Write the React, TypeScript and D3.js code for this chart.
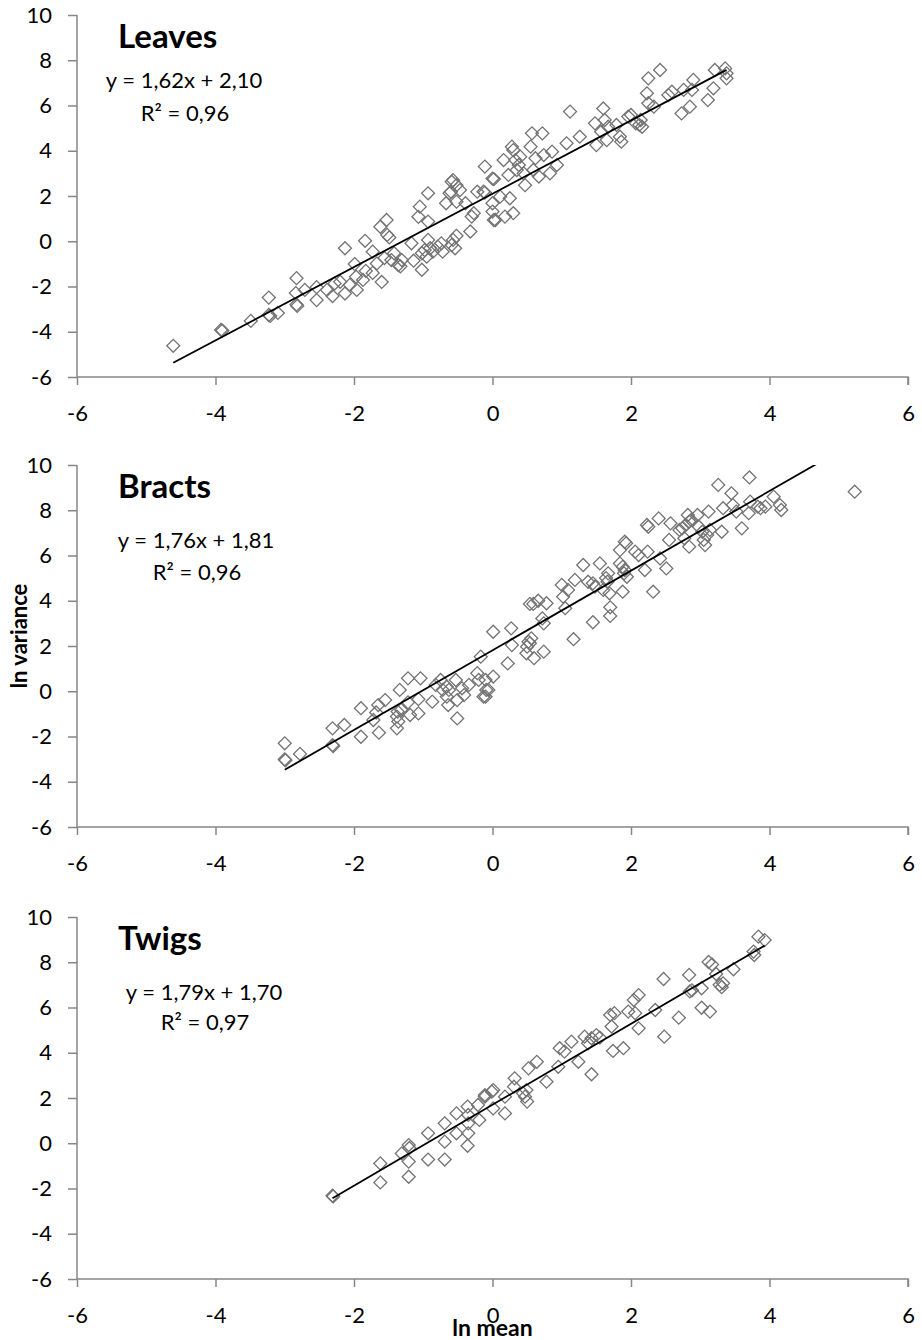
import { useEffect, useRef } from "react";
import * as d3 from "d3";

// ln mean / ln variance pairs
const leavesPoints: [number, number][] = [
  [-4.61, -4.62], [-3.92, -3.92], [-3.9, -3.95], [-3.49, -3.52], [-3.23, -2.49], [-3.23, -3.26], [-3.21, -3.3],
  [-3.1, -3.17], [-2.83, -1.63], [-2.84, -2.29], [-2.82, -2.86], [-2.83, -2.8], [-2.71, -2.15], [-2.54, -2.6],
  [-2.54, -2.03], [-2.39, -2.15], [-2.31, -2.42], [-2.28, -1.87], [-2.2, -1.79], [-2.13, -0.31], [-2.13, -2.31],
  [-2.06, -1.93], [-1.99, -1.01], [-1.97, -1.57], [-1.96, -2.15], [-1.87, -1.71], [-1.84, 0.02], [-1.83, -1.31],
  [-1.73, -0.46], [-1.73, -1.4], [-1.67, -0.98], [-1.62, 0.64], [-1.6, -1.8], [-1.53, 0.94], [-1.52, 0.28],
  [-1.49, 0.17], [-1.56, -0.74], [-1.46, -0.83], [-1.42, -0.53], [-1.36, -1.05], [-1.31, -0.83], [-1.33, -1.11],
  [-1.17, -0.09], [-1.14, -0.86], [-1.07, 1.08], [-1.05, 1.53], [-1.02, -1.26], [-1.02, -0.53], [-0.98, -0.39],
  [-0.95, -0.68], [-0.93, 2.12], [-0.93, 0.87], [-0.93, 0.06], [-0.9, -0.31], [-0.86, -0.46], [-0.79, -0.24],
  [-0.74, -0.09], [-0.72, -0.46], [-0.67, 1.68], [-0.62, 2.12], [-0.6, 2.19], [-0.59, 2.63], [-0.57, 2.7],
  [-0.52, 2.48], [-0.47, 2.26], [-0.52, 1.75], [-0.59, -0.17], [-0.54, -0.31], [-0.57, 0.06], [-0.52, 0.24],
  [-0.39, 1.68], [-0.32, 0.43], [-0.27, 1.24], [-0.3, 1.09], [-0.22, 2.19], [-0.11, 3.3], [-0.11, 2.15],
  [0.0, 2.77], [0.0, 1.68], [0.0, 1.31], [0.02, 0.94], [-0.13, 2.19], [0.02, 2.75], [0.04, 0.94], [0.18, 1.09],
  [0.11, 1.97], [0.25, 1.9], [0.3, 1.24], [0.16, 3.59], [0.28, 4.18], [0.3, 4.03], [0.23, 2.93], [0.33, 3.59],
  [0.38, 3.37], [0.4, 3.74], [0.35, 3.15], [0.45, 3.0], [0.47, 2.48], [0.57, 4.77], [0.55, 4.18], [0.62, 3.67],
  [0.59, 3.15], [0.72, 4.77], [0.67, 2.86], [0.74, 3.81], [0.83, 3.0], [0.86, 3.96], [0.93, 3.37], [1.07, 4.33],
  [1.12, 5.73], [1.26, 4.62], [1.5, 4.25], [1.48, 5.21], [1.6, 5.87], [1.62, 5.36], [1.57, 4.84], [1.65, 4.47],
  [1.67, 5.06], [1.79, 5.14], [1.84, 4.62], [1.86, 4.4], [1.96, 5.51], [2.0, 5.58], [2.07, 5.21], [2.12, 5.14],
  [2.14, 5.36], [2.16, 5.06], [2.23, 6.54], [2.25, 7.2], [2.25, 6.1], [2.33, 5.95], [2.42, 7.57], [2.54, 6.46],
  [2.59, 6.61], [2.73, 5.65], [2.76, 6.69], [2.85, 5.95], [2.9, 7.13], [2.88, 6.69], [3.11, 6.24], [3.19, 6.76],
  [3.21, 7.57], [3.36, 7.64], [3.38, 7.42], [3.38, 7.2],
];

const bractsPoints: [number, number][] = [
  [-3.0, -2.3], [-3.0, -3.01], [-2.99, -3.05], [-2.78, -2.77], [-2.31, -1.64], [-2.31, -2.38], [-2.3, -2.42],
  [-2.14, -1.49], [-1.9, -0.75], [-1.9, -2.01], [-1.72, -1.27], [-1.68, -0.94], [-1.65, -0.61], [-1.64, -1.83],
  [-1.55, -0.39], [-1.38, -1.12], [-1.37, -0.9], [-1.38, -1.64], [-1.36, -1.34], [-1.34, 0.06], [-1.32, -0.82],
  [-1.22, 0.57], [-1.22, -0.49], [-1.19, -1.05], [-1.07, -0.98], [-1.04, 0.57], [-1.07, -0.35], [-0.87, -0.46],
  [-0.82, 0.28], [-0.75, 0.5], [-0.72, 0.06], [-0.66, -0.24], [-0.64, -0.61], [-0.63, 0.06], [-0.66, 0.2],
  [-0.53, 0.5], [-0.51, -0.39], [-0.51, -1.2], [-0.44, 0.13], [-0.41, -0.17], [-0.34, 0.28], [-0.22, 0.8],
  [-0.2, 0.5], [-0.13, -0.24], [-0.06, 0.06], [-0.17, 1.53], [0.01, 2.63], [0.01, 0.65], [-0.1, 0.5],
  [-0.09, 0.06], [-0.1, -0.24], [0.22, 1.23], [0.27, 2.78], [0.28, 2.04], [0.5, 1.97], [0.52, 2.19],
  [0.54, 2.12], [0.49, 1.68], [0.56, 2.34], [0.6, 1.46], [0.74, 1.75], [0.54, 3.86], [0.59, 3.86], [0.66, 4.0],
  [0.72, 3.22], [0.74, 3.0], [0.78, 3.89], [1.0, 4.7], [1.02, 4.18], [1.05, 3.67], [1.09, 4.48], [1.19, 4.92],
  [1.17, 2.3], [1.31, 5.58], [1.38, 4.84], [1.45, 4.77], [1.48, 4.62], [1.45, 3.05], [1.55, 5.65], [1.6, 4.48],
  [1.64, 5.0], [1.66, 4.84], [1.67, 5.21], [1.69, 4.33], [1.7, 3.71], [1.7, 3.33], [1.84, 6.24], [1.91, 6.61],
  [1.93, 6.54], [1.84, 5.65], [1.88, 5.5], [1.91, 5.36], [1.9, 5.21], [1.94, 5.06], [1.88, 4.4], [2.06, 6.17],
  [2.11, 6.02], [2.2, 5.36], [2.24, 6.17], [2.32, 4.4], [2.42, 5.87], [2.51, 5.43], [2.25, 7.27], [2.23, 7.35],
  [2.4, 7.64], [2.57, 7.42], [2.55, 6.69], [2.7, 7.13], [2.74, 7.2], [2.79, 7.35], [2.84, 7.5], [2.82, 7.79],
  [2.87, 7.57], [2.77, 6.76], [2.84, 6.39], [2.96, 7.79], [2.98, 7.27], [3.03, 7.05], [3.1, 6.91], [3.05, 6.69],
  [3.07, 6.46], [3.12, 7.94], [3.14, 7.13], [3.31, 7.05], [3.26, 9.12], [3.33, 8.09], [3.45, 8.75], [3.47, 8.23],
  [3.52, 7.94], [3.6, 7.2], [3.71, 9.45], [3.72, 8.38], [3.7, 7.87], [3.83, 8.16], [3.87, 8.09], [3.94, 8.16],
  [4.06, 8.6], [4.15, 8.23], [4.17, 8.01], [5.23, 8.82],
];

const twigsPoints: [number, number][] = [
  [-2.31, -2.32], [-2.3, -2.35], [-1.62, -0.89], [-1.62, -1.73], [-1.31, -0.45], [-1.21, -0.08], [-1.2, -0.21],
  [-1.21, -0.81], [-1.21, -1.48], [-0.93, 0.44], [-0.93, -0.72], [-0.69, 0.88], [-0.69, 0.07], [-0.69, -0.72],
  [-0.52, 1.32], [-0.52, 0.44], [-0.36, 1.62], [-0.35, 1.25], [-0.35, 0.88], [-0.35, 0.44], [-0.36, -0.11],
  [-0.21, 1.69], [-0.19, 1.03], [-0.11, 2.06], [0.01, 2.35], [0.01, 1.54], [-0.11, 2.13], [-0.01, 2.28],
  [0.18, 2.06], [0.18, 1.32], [0.32, 2.87], [0.31, 2.5], [0.44, 2.21], [0.47, 2.06], [0.5, 1.84], [0.49, 2.35],
  [0.52, 3.31], [0.64, 3.6], [0.78, 2.72], [0.95, 3.38], [0.97, 4.2], [1.04, 4.05], [1.14, 4.49], [1.24, 3.6],
  [1.33, 4.71], [1.38, 4.42], [1.43, 4.64], [1.5, 4.78], [1.55, 4.67], [1.43, 3.05], [1.7, 5.67], [1.72, 5.16],
  [1.74, 4.08], [1.76, 5.75], [1.89, 4.2], [1.96, 5.82], [2.04, 6.33], [2.11, 6.55], [2.06, 5.75], [2.11, 5.08],
  [2.35, 5.89], [2.47, 7.26], [2.48, 4.71], [2.69, 5.55], [2.84, 7.44], [2.85, 6.71], [2.88, 6.76], [3.02, 6.85],
  [3.02, 5.99], [3.14, 5.82], [3.12, 8.01], [3.17, 7.9], [3.23, 7.48], [3.28, 7.0], [3.33, 7.07], [3.31, 6.9],
  [3.48, 7.69], [3.77, 8.47], [3.78, 8.32], [3.84, 9.13], [3.93, 8.98],
];

const panelNames = ["Leaves", "Bracts", "Twigs"];
const fitSlopes = [1.62, 1.76, 1.79];
const fitIntercepts = [2.10, 1.81, 1.70];
const fitLabels = ["y = 1,62x + 2,10", "y = 1,76x + 1,81", "y = 1,79x + 1,70"];
const r2Labels = ["R² = 0,96", "R² = 0,96", "R² = 0,97"];
const xTicks = [-6, -4, -2, 0, 2, 4, 6];
const yTicks = [-6, -4, -2, 0, 2, 4, 6, 8, 10];

const W = 922;
const H = 1340;

export default function App() {
  const svgRef = useRef<SVGSVGElement | null>(null);

  useEffect(() => {
    const svg = d3.select(svgRef.current);
    svg.selectAll("*").remove();

    const left = 77;
    const right = 908;
    const panelTops = [15, 465, 917];
    const panelH = 362;
    const font = "Lato, 'Open Sans', sans-serif";
    const axisColor = "#878787";
    const plain = (d: d3.NumberValue) => String(d); // hyphen minus, like the original

    const x = d3.scaleLinear().domain([-6, 6]).range([left, right]);
    const datasets = [leavesPoints, bractsPoints, twigsPoints];
    const diamond = d3.symbol().type(d3.symbolSquare).size(84);

    datasets.forEach((pts, i) => {
      const top = panelTops[i];
      const y = d3.scaleLinear().domain([-6, 10]).range([top + panelH, top]);
      const g = svg.append("g");

      const clipId = `clip-${i}`;
      svg.append("defs").append("clipPath").attr("id", clipId)
        .append("rect").attr("x", left).attr("y", top).attr("width", right - left).attr("height", panelH);

      // axes
      const yAxis = g.append("g")
        .attr("transform", `translate(${left},0)`)
        .call(d3.axisLeft(y).tickValues(yTicks).tickFormat(plain).tickSize(9).tickSizeOuter(0).tickPadding(16));
      const xAxis = g.append("g")
        .attr("transform", `translate(0,${top + panelH})`)
        .call(d3.axisBottom(x).tickValues(xTicks).tickFormat(plain).tickSize(8).tickSizeOuter(0).tickPadding(20));

      [yAxis, xAxis].forEach(ax => {
        ax.selectAll("path, line").attr("stroke", axisColor).attr("stroke-width", 1.5);
        ax.selectAll("text")
          .attr("font-family", font)
          .attr("font-size", 22)
          .attr("fill", "#000");
      });
      yAxis.select("path.domain").attr("d", `M0,${top}V${top + panelH}`);
      xAxis.select("path.domain").attr("d", `M${left},0H${right}V8`);

      // points
      g.append("g")
        .selectAll("path")
        .data(pts)
        .enter()
        .append("path")
        .attr("d", diamond)
        .attr("transform", d => `translate(${x(d[0])},${y(d[1])}) rotate(45)`)
        .attr("fill", "none")
        .attr("stroke", "#737373")
        .attr("stroke-width", 1.3);

      // trend line over the data range
      const xs = d3.extent(pts, d => d[0]) as [number, number];
      const fit = (v: number) => fitSlopes[i] * v + fitIntercepts[i];
      g.append("path")
        .attr("clip-path", `url(#${clipId})`)
        .datum(xs)
        .attr("d", d3.line<number>().x(v => x(v)).y(v => y(fit(v))))
        .attr("fill", "none")
        .attr("stroke", "#000")
        .attr("stroke-width", 1.8);

      // labels
      g.append("text")
        .attr("x", 118)
        .attr("y", top + 21)
        .attr("dy", "0.35em")
        .attr("font-family", font)
        .attr("font-weight", "bold")
        .attr("font-size", 33)
        .text(panelNames[i]);

      const eqX = [184, 196, 204][i];
      const eqY = [65, 75, 75][i];
      const r2Y = [98, 107, 105][i];
      g.append("text")
        .attr("x", eqX)
        .attr("y", top + eqY)
        .attr("dy", "0.35em")
        .attr("text-anchor", "middle")
        .attr("font-family", font)
        .attr("font-size", 22)
        .text(fitLabels[i]);
      g.append("text")
        .attr("x", eqX + 1)
        .attr("y", top + r2Y)
        .attr("dy", "0.35em")
        .attr("text-anchor", "middle")
        .attr("font-family", font)
        .attr("font-size", 22)
        .text(r2Labels[i]);
    });

    // axis titles
    svg.append("text")
      .attr("transform", `translate(19,636) rotate(-90)`)
      .attr("dy", "0.35em")
      .attr("text-anchor", "middle")
      .attr("font-family", font)
      .attr("font-weight", "bold")
      .attr("font-size", 22)
      .text("ln variance");

    svg.append("text")
      .attr("x", x(0))
      .attr("y", 1328)
      .attr("dy", "0.35em")
      .attr("text-anchor", "middle")
      .attr("font-family", font)
      .attr("font-weight", "bold")
      .attr("font-size", 23)
      .text("ln mean");
  }, []);

  return (
    <svg
      ref={svgRef}
      width={W}
      height={H}
      style={{ position: "absolute", left: 0, top: 0, background: "#fff" }}
    />
  );
}
